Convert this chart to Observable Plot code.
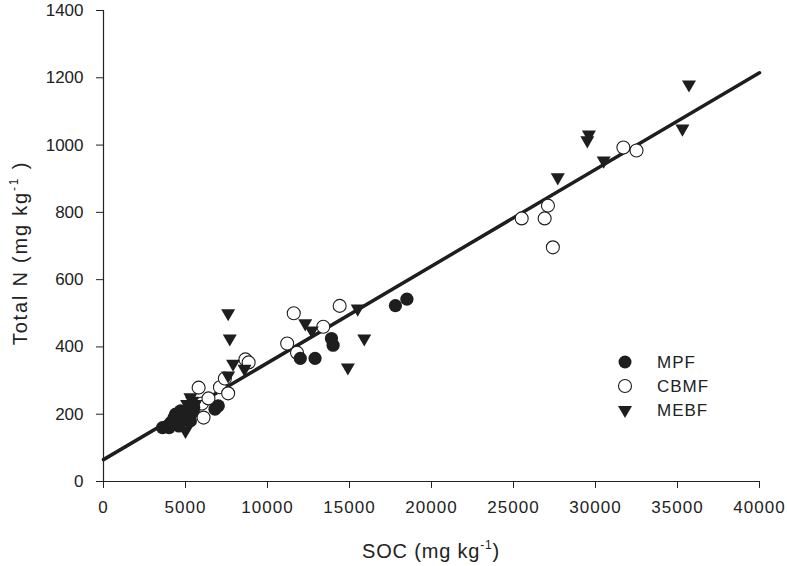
<!DOCTYPE html>
<html>
<head>
<meta charset="utf-8">
<script src="https://cdn.jsdelivr.net/npm/d3@7"></script>
<script src="https://cdn.jsdelivr.net/npm/@observablehq/plot@0.6"></script>
<style>
  html, body { margin: 0; padding: 0; background: #fff; }
  #chart { position: relative; width: 787px; height: 566px; font-family: "Liberation Sans", Arial, sans-serif; }
</style>
</head>
<body>
<div id="chart"></div>
<script>
// ---- Data ----
const mpfX  = [3600, 3900, 4000, 4100, 4200, 4300, 4400, 4500, 4600, 4700, 4800, 5000, 5200, 5300, 5500, 6800, 7000, 12000, 12900, 13900, 14000, 17800, 18500];
const mpfY  = [160, 165, 160, 175, 170, 190, 200, 180, 165, 210, 200, 190, 210, 180, 220, 215, 225, 366, 366, 425, 405, 523, 542];

const cbmfX = [5800, 6000, 6100, 6400, 7100, 7400, 7600, 8650, 8850, 11200, 11600, 11800, 13400, 14400, 25500, 26900, 27100, 27400, 31700, 32500];
const cbmfY = [279, 232, 190, 247, 280, 306, 262, 363, 354, 410, 500, 383, 460, 522, 782, 782, 820, 696, 993, 984];

const mebfX = [4900, 5000, 5100, 5200, 5200, 5300, 5400, 5500, 5600, 7600, 7700, 7900, 7600, 8600, 12300, 12700, 14900, 15500, 15900, 27700, 29500, 29600, 30500, 35300, 35700];
const mebfY = [200, 150, 230, 170, 210, 250, 240, 200, 230, 500, 425, 350, 315, 335, 470, 449, 339, 514, 425, 904, 1014, 1031, 954, 1049, 1180];

// Regression line end points
const fitX = [0, 40000];
const fitY = [65, 1215];

const xTicks = [0, 5000, 10000, 15000, 20000, 25000, 30000, 35000, 40000];
const yTicks = [0, 200, 400, 600, 800, 1000, 1200, 1400];

const seriesNames = ["MPF", "CBMF", "MEBF"];

// ---- Build tables ----
const toRows = (xs, ys) => xs.map((x, i) => ({x, y: ys[i]}));
const mpf = toRows(mpfX, mpfY);
const cbmf = toRows(cbmfX, cbmfY);
const mebf = toRows(mebfX, mebfY);
const fit = toRows(fitX, fitY);

const ink = "#1e1e1e";
const font = "'Liberation Sans', Arial, sans-serif";

const plot = Plot.plot({
  width: 787,
  height: 566,
  marginLeft: 103,
  marginRight: 28,
  marginTop: 10,
  marginBottom: 85,
  style: {fontFamily: font, background: "#fff", color: "#222"},
  x: {domain: [0, 40000]},
  y: {domain: [0, 1400]},
  marks: [
    Plot.axisY({ticks: yTicks, tickSize: 7, tickPadding: 13, fontSize: 17, label: null, tickFormat: d => String(d), stroke: "#222"}),
    Plot.axisX({ticks: xTicks, tickSize: 7, tickPadding: 12, fontSize: 17, label: null, tickFormat: d => String(d), stroke: "#222"}),
    Plot.ruleX([0], {stroke: "#222", strokeWidth: 1.2}),
    Plot.ruleY([0], {stroke: "#222", strokeWidth: 1.2}),
    Plot.line(fit, {x: "x", y: "y", stroke: ink, strokeWidth: 3.5}),
    Plot.dot(cbmf, {x: "x", y: "y", r: 6.5, fill: "#fff", stroke: ink, strokeWidth: 1.1}),
    Plot.dot(mebf, {x: "x", y: "y", symbol: "triangle", r: 5.2, rotate: 180, fill: ink, stroke: "none"}),
    Plot.dot(mpf, {x: "x", y: "y", r: 6.6, fill: ink, stroke: "none"})
  ]
});

document.getElementById("chart").appendChild(plot);

const svg = d3.select(plot);
// letter-spacing on x tick labels (reference labels are slightly spaced)
svg.selectAll("g[aria-label='x-axis tick label'] text").attr("letter-spacing", 1);

// ---- Axis titles with superscripts ----
const yt = svg.append("text")
  .attr("transform", "translate(27,253) rotate(-90)")
  .attr("text-anchor", "middle")
  .attr("font-family", font)
  .attr("font-size", 20)
  .attr("letter-spacing", 1.8)
  .attr("fill", "#222");
yt.append("tspan").text("Total N (mg kg");
yt.append("tspan").attr("font-size", 12).attr("dy", -9).text("-1");
yt.append("tspan").attr("dy", 9).text(" )");

const xt = svg.append("text")
  .attr("x", 431)
  .attr("y", 558)
  .attr("text-anchor", "middle")
  .attr("font-family", font)
  .attr("font-size", 20)
  .attr("letter-spacing", 0.8)
  .attr("fill", "#222");
xt.append("tspan").text("SOC (mg kg");
xt.append("tspan").attr("font-size", 12).attr("dy", -9).text("-1");
xt.append("tspan").attr("dy", 9).text(")");

// ---- Legend ----
const legendSym = [d3.symbolCircle, d3.symbolCircle, d3.symbolTriangle];
const legendFill = [ink, "#fff", ink];
const lg = svg.append("g").attr("transform", "translate(625,362)");
seriesNames.forEach((name, i) => {
  const g = lg.append("g").attr("transform", `translate(0,${i * 24})`);
  const size = i === 2 ? Math.PI * 5.2 * 5.2 : Math.PI * 6.5 * 6.5;
  g.append("path")
    .attr("d", d3.symbol(legendSym[i], size)())
    .attr("transform", i === 2 ? "rotate(180)" : null)
    .attr("fill", legendFill[i])
    .attr("stroke", i === 1 ? ink : "none")
    .attr("stroke-width", 1.1);
  g.append("text")
    .attr("x", 32)
    .attr("dy", "0.36em")
    .attr("text-anchor", "start")
    .attr("font-family", font)
    .attr("font-size", 17)
    .attr("letter-spacing", 1)
    .attr("fill", "#222")
    .text(name);
});
</script>
</body>
</html>
